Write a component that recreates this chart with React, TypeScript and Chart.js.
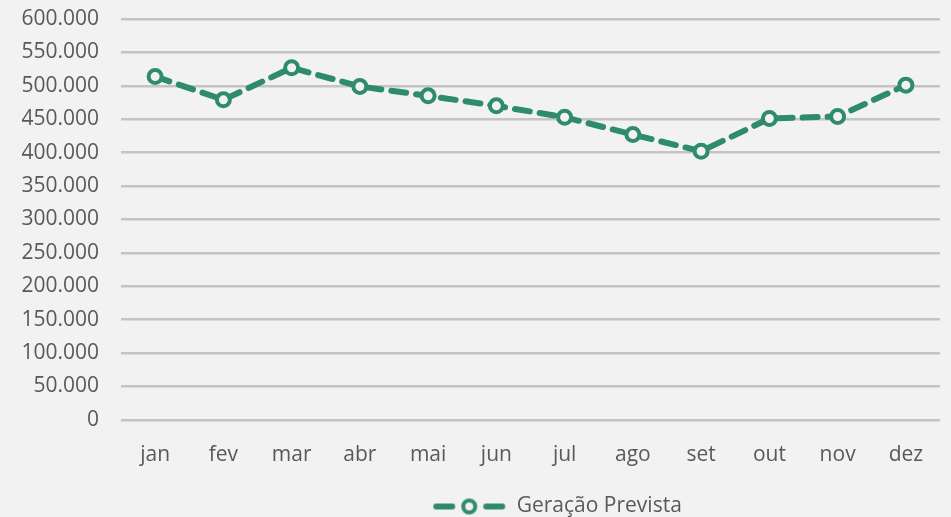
import React, { useEffect, useRef } from "react";
import { Chart, registerables } from "chart.js";

Chart.register(...registerables);

const months = ["jan", "fev", "mar", "abr", "mai", "jun", "jul", "ago", "set", "out", "nov", "dez"];
const geracaoPrevista = [514000, 479000, 527000, 499000, 485000, 470000, 453000, 427000, 402000, 451000, 454000, 501000];
const seriesLabel = "Geração Prevista";

const GREEN = "#2E8B6C";
const BG = "#F2F2F2";
const TEXT = "#595959";
const FONT = "'Open Sans', 'Noto Sans', sans-serif";
const FS = 21;

function fmt(v: number): string {
  return String(Math.round(v)).replace(/\B(?=(\d{3})+(?!\d))/g, ".");
}

function legendIcon(): HTMLCanvasElement {
  const c = document.createElement("canvas");
  c.width = 74;
  c.height = 20;
  const ctx = c.getContext("2d")!;
  ctx.strokeStyle = GREEN;
  ctx.lineWidth = 6;
  ctx.lineCap = "round";
  ctx.beginPath();
  ctx.moveTo(4, 10);
  ctx.lineTo(20, 10);
  ctx.moveTo(54, 10);
  ctx.lineTo(70, 10);
  ctx.stroke();
  ctx.beginPath();
  ctx.arc(37, 10, 6, 0, Math.PI * 2);
  ctx.fillStyle = BG;
  ctx.fill();
  ctx.lineWidth = 4;
  ctx.stroke();
  return c;
}

const legendShift = {
  id: "legendShift",
  afterLayout(chart: any) {
    const lg = chart.legend;
    if (lg) {
      lg.left += 174;
    }
  },
};

export default function App() {
  const ref = useRef<HTMLCanvasElement>(null);
  useEffect(() => {
    const icon = legendIcon();
    const chart = new Chart(ref.current!, {
      type: "line",
      data: {
        labels: months,
        datasets: [
          {
            label: seriesLabel,
            data: geracaoPrevista,
            borderColor: GREEN,
            borderWidth: 6,
            borderDash: [15, 10],
            borderCapStyle: "round",
            pointRadius: 6.5,
            pointBorderWidth: 4,
            pointBackgroundColor: BG,
            pointBorderColor: GREEN,
            tension: 0,
          },
        ],
      },
      options: {
        animation: false,
        responsive: false,
        maintainAspectRatio: false,
        layout: { padding: { top: 0, right: 11, bottom: -10, left: 0 } },
        scales: {
          x: {
            offset: true,
            grid: { display: false, drawTicks: false },
            border: { display: false },
            ticks: { color: TEXT, font: { family: FONT, size: FS }, padding: 23 },
          },
          y: {
            min: 0,
            max: 600000,
            afterFit: (s: any) => {
              s.width = 121;
              s.paddingTop = 19;
              s.paddingBottom = 12;
            },
            grid: { color: "#C4C4C4", lineWidth: 2.5, drawTicks: false },
            border: { display: false },
            ticks: {
              stepSize: 50000,
              color: TEXT,
              font: { family: FONT, size: FS },
              padding: 22,
              callback: (v: any) => fmt(Number(v)),
            },
          },
        },
        plugins: {
          legend: {
            position: "bottom",
            labels: {
              color: TEXT,
              font: { family: FONT, size: FS },
              usePointStyle: true,
              pointStyle: icon as any,
              pointStyleWidth: 74,
              boxHeight: 20,
              padding: 5,
            },
          },
          tooltip: { enabled: false },
        },
      },
      plugins: [legendShift],
    });
    return () => chart.destroy();
  }, []);
  return (
    <div style={{ position: "fixed", left: 0, top: 0, width: 951, height: 517, background: BG }}>
      <canvas ref={ref} width={951} height={517} style={{ display: "block" }} />
    </div>
  );
}
